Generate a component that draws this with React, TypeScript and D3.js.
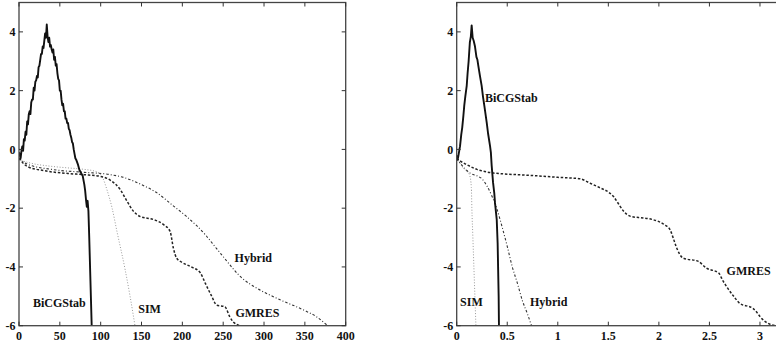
import * as d3 from "d3";

// left panel: iterations vs log10 residual
const leftXTicks = [0, 50, 100, 150, 200, 250, 300, 350, 400];
const rightXTicks = [0, 0.5, 1, 1.5, 2, 2.5, 3];
const yTicks = [-6, -4, -2, 0, 2, 4];

const leftBiCGStab: [number, number][] = [
  [0, -0.1], [2, -0.3], [3, -0.05], [4, 0.1], [5, -0.05], [6, 0.35], [7, 0.3], [8, 0.6],
  [9, 0.5], [10, 0.95], [11, 0.85], [12, 1.2], [13, 1.3], [14, 1.2], [15, 1.6], [16, 1.7],
  [17, 1.7], [18, 2.1], [19, 2.0], [20, 2.3], [21, 2.35], [22, 2.5], [23, 2.45], [24, 2.8],
  [25, 2.85], [26, 3.05], [27, 3.25], [28, 3.25], [29, 3.5], [30, 3.45], [31, 3.7], [32, 3.95],
  [33, 3.8], [34, 4.25], [35, 3.85], [36, 3.65], [37, 3.8], [38, 3.5], [39, 3.55], [40, 3.4],
  [41, 3.3], [42, 3.4], [43, 3.05], [44, 3.15], [45, 2.85], [46, 2.9], [47, 2.6], [48, 2.4],
  [49, 2.35], [50, 2.0], [51, 2.0], [52, 1.7], [53, 1.5], [54, 1.55], [55, 1.3], [56, 1.3],
  [57, 1.05], [58, 1.05], [59, 0.9], [60, 0.9], [61, 0.7], [62, 0.65], [63, 0.5], [64, 0.4],
  [65, 0.25], [66, 0.2], [67, 0.0], [68, -0.15], [69, -0.3], [70, -0.35], [72, -0.5], [74, -0.7],
  [76, -0.8], [78, -0.9], [80, -1.2], [81, -1.4], [82, -1.7], [83, -1.95], [84, -1.75], [85, -2.1],
  [86, -3.0], [87, -4.0], [88, -5.0], [89, -6.0],
];
const leftSIM: [number, number][] = [
  [0, -0.3], [3, -0.36], [15, -0.47], [35, -0.56], [60, -0.63], [80, -0.68], [95, -0.76],
  [103, -1.0], [108, -1.4], [114, -2.0], [120, -2.8], [130, -4.1], [136, -5.0], [142, -6],
];
const leftHybrid: [number, number][] = [
  [0, -0.3], [10, -0.5], [40, -0.68], [80, -0.78], [110, -0.85], [130, -0.97], [150, -1.2],
  [169, -1.48], [188, -1.9], [205, -2.28], [228, -2.9], [242, -3.38], [250, -3.65], [273, -4.38],
  [291, -4.72], [315, -5.06], [348, -5.46], [364, -5.69], [378, -6],
];
const leftGMRES: [number, number][] = [
  [0, -0.3], [10, -0.58], [30, -0.72], [60, -0.82], [80, -0.86], [100, -0.92], [112, -1.05],
  [124, -1.37], [132, -1.75], [140, -2.1], [148, -2.28], [165, -2.39], [177, -2.56], [185, -2.79],
  [189, -3.36], [193, -3.7], [200, -3.85], [211, -4.0], [222, -4.2], [228, -4.55], [236, -5.0],
  [242, -5.3], [252, -5.35], [258, -5.69], [262, -5.86], [271, -6],
];

// right panel: time vs log10 residual
const rightBiCGStab: [number, number][] = [
  [0, -0.2], [0.008, -0.35], [0.016, -0.23], [0.025, -0.05], [0.033, 0.11], [0.045, 0.5],
  [0.055, 0.75], [0.066, 1.14], [0.075, 1.5], [0.085, 1.8], [0.099, 2.16], [0.108, 2.6],
  [0.118, 3.0], [0.13, 3.64], [0.14, 3.85], [0.148, 4.22], [0.158, 3.8], [0.168, 3.7],
  [0.18, 3.52], [0.195, 3.15], [0.205, 3.05], [0.214, 2.84], [0.23, 2.5], [0.247, 2.16],
  [0.26, 1.8], [0.275, 1.45], [0.297, 0.91], [0.31, 0.55], [0.33, 0.11], [0.338, -0.1],
  [0.346, -0.55], [0.36, -1.14], [0.372, -1.5], [0.379, -1.82], [0.396, -2.39], [0.405, -3.2],
  [0.41, -4.1], [0.415, -5.0], [0.418, -6],
];
const rightSIM: [number, number][] = [
  [0, -0.3], [0.02, -0.4], [0.06, -0.62], [0.1, -0.75], [0.13, -0.9], [0.145, -1.3],
  [0.15, -2.0], [0.16, -3.0], [0.17, -4.0], [0.18, -5.0], [0.19, -6],
];
const rightHybrid: [number, number][] = [
  [0, -0.3], [0.02, -0.4], [0.08, -0.65], [0.13, -0.8], [0.2, -0.9], [0.25, -1.0], [0.3, -1.25],
  [0.35, -1.6], [0.4, -2.05], [0.45, -2.65], [0.5, -3.3], [0.55, -4.0], [0.6, -4.55],
  [0.65, -5.15], [0.7, -5.6], [0.74, -6],
];
const rightGMRES: [number, number][] = [
  [0, -0.3], [0.03, -0.38], [0.1, -0.52], [0.2, -0.68], [0.3, -0.77], [0.45, -0.83], [0.6, -0.86],
  [0.8, -0.9], [1.0, -0.95], [1.22, -1.0], [1.32, -1.15], [1.42, -1.31], [1.5, -1.45], [1.55, -1.6],
  [1.6, -1.85], [1.65, -2.1], [1.72, -2.28], [1.8, -2.32], [1.94, -2.39], [2.05, -2.55],
  [2.11, -2.73], [2.14, -3.0], [2.17, -3.3], [2.24, -3.7], [2.39, -3.81], [2.47, -4.04],
  [2.59, -4.2], [2.63, -4.45], [2.67, -4.67], [2.74, -5.0], [2.8, -5.24], [2.93, -5.41],
  [2.97, -5.55], [3.0, -5.69], [3.08, -5.92], [3.16, -6],
];

const leftLabels: [string, number, number][] = [
  ["BiCGStab", 17, -5.35], ["SIM", 146, -5.57], ["Hybrid", 264, -3.82], ["GMRES", 265, -5.69],
];
const rightLabels: [string, number, number][] = [
  ["BiCGStab", 0.28, 1.62], ["SIM", 0.033, -5.33], ["Hybrid", 0.725, -5.33], ["GMRES", 2.67, -4.27],
];

const W = 776;
const H = 347;
const txt = { fontFamily: '"Liberation Serif", "DejaVu Serif", serif', fontWeight: 700, fontSize: 12 };

type Series = { data: [number, number][]; kind: "solid" | "dot" | "dash" | "dashdot" };

function Panel({
  x0, x1, domainMax, xTicks, series, labels,
}: {
  x0: number; x1: number; domainMax: number; xTicks: number[];
  series: Series[]; labels: [string, number, number][];
}) {
  const top = 2.5;
  const bottom = 325.7;
  const x = d3.scaleLinear().domain([0, domainMax]).range([x0, x1]);
  const y = d3.scaleLinear().domain([-6, 5]).range([bottom, top]);
  const tl = 4;

  const style = (k: Series["kind"]) => {
    if (k === "solid") return { stroke: "#111", strokeWidth: 1.9, dash: undefined, curve: d3.curveLinear };
    if (k === "dot") return { stroke: "#999", strokeWidth: 1, dash: "1,1.8", curve: d3.curveMonotoneX };
    if (k === "dash") return { stroke: "#222", strokeWidth: 1.5, dash: "2.5,1.8", curve: d3.curveMonotoneX };
    return { stroke: "#333", strokeWidth: 1.1, dash: "2.5,2,1,2", curve: d3.curveMonotoneX };
  };

  return (
    <g>
      <defs>
        <clipPath id={`clip-${Math.round(x0)}`}>
          <rect x={x0} y={top} width={x1 - x0} height={bottom - top} />
        </clipPath>
      </defs>
      <g clipPath={`url(#clip-${Math.round(x0)})`}>
        {series.map((s, i) => {
          const st = style(s.kind);
          const line = d3.line<[number, number]>()
            .x((d) => x(d[0]))
            .y((d) => y(d[1]))
            .curve(st.curve);
          return (
            <path key={i} d={line(s.data) ?? ""} fill="none" stroke={st.stroke}
              strokeWidth={st.strokeWidth} strokeDasharray={st.dash} strokeLinejoin="round" />
          );
        })}
      </g>
      <rect x={x0} y={top} width={x1 - x0} height={bottom - top} fill="none" stroke="#444" strokeWidth={1.3} />
      {xTicks.map((t) => (
        <g key={`x${t}`}>
          <line x1={x(t)} x2={x(t)} y1={bottom} y2={bottom - tl} stroke="#333" strokeWidth={1} />
          <line x1={x(t)} x2={x(t)} y1={top} y2={top + tl} stroke="#333" strokeWidth={1} />
          <text x={x(t)} y={340} textAnchor="middle" style={txt} fill="#111">
            {String(t)}
          </text>
        </g>
      ))}
      {yTicks.map((t) => (
        <g key={`y${t}`}>
          <line x1={x0} x2={x0 + tl} y1={y(t)} y2={y(t)} stroke="#333" strokeWidth={1} />
          <line x1={x1} x2={x1 - tl} y1={y(t)} y2={y(t)} stroke="#333" strokeWidth={1} />
          <text x={x0 - 3.5} y={y(t)} dy="0.35em" textAnchor="end" style={txt} fill="#111">
            {String(t)}
          </text>
        </g>
      ))}
      {labels.map(([name, lx, ly]) => (
        <text key={name} x={x(lx)} y={y(ly)} style={txt} fill="#111">
          {name}
        </text>
      ))}
    </g>
  );
}

export default function App() {
  return (
    <svg width={W} height={H} style={{ position: "absolute", left: 0, top: 0, background: "#fff" }}>
      <rect width={W} height={H} fill="#fff" />
      <Panel
        x0={19} x1={345.7} domainMax={400} xTicks={leftXTicks}
        series={[
          { data: leftSIM, kind: "dot" },
          { data: leftHybrid, kind: "dashdot" },
          { data: leftGMRES, kind: "dash" },
          { data: leftBiCGStab, kind: "solid" },
        ]}
        labels={leftLabels}
      />
      <Panel
        x0={456.7} x1={780.2} domainMax={3.2} xTicks={rightXTicks}
        series={[
          { data: rightSIM, kind: "dot" },
          { data: rightHybrid, kind: "dashdot" },
          { data: rightGMRES, kind: "dash" },
          { data: rightBiCGStab, kind: "solid" },
        ]}
        labels={rightLabels}
      />
    </svg>
  );
}
